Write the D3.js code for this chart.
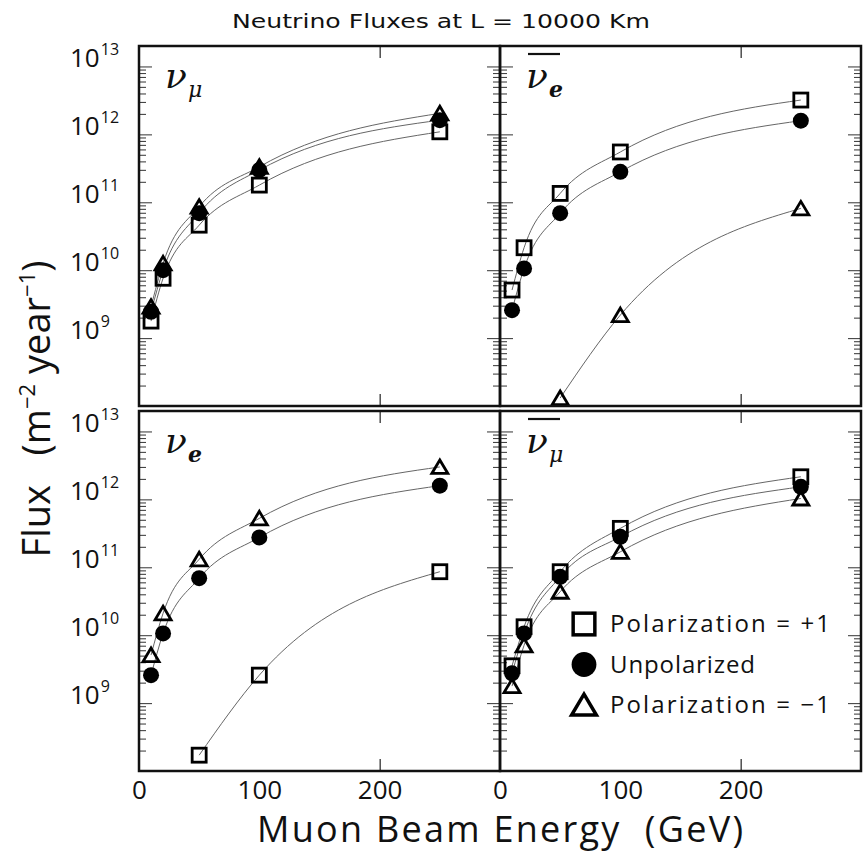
<!DOCTYPE html>
<html>
<head>
<meta charset="utf-8">
<script src="https://cdn.jsdelivr.net/npm/d3@7"></script>
<style>
  body { margin: 0; background: #fff; }
  svg text { font-family: "Open Sans", "DejaVu Sans", sans-serif; fill: #111; }
</style>
</head>
<body>
<div id="chart"></div>
<script>
// muon beam energies (GeV)
var energies = [10, 20, 50, 100, 250];

// fluxes in m^-2 year^-1 (null = below the frame)
var numuPlus  = [1.78e9, 7.6e9, 4.6e10, 1.79e11, 1.09e12];
var numuUnpol = [2.44e9, 1.0e10, 6.9e10, 2.98e11, 1.62e12];
var numuMinus = [2.9e9, 1.26e10, 8.6e10, 3.33e11, 2.04e12];

var nuebarPlus  = [5.1e9, 2.14e10, 1.35e11, 5.5e11, 3.2e12];
var nuebarUnpol = [2.58e9, 1.06e10, 6.9e10, 2.81e11, 1.59e12];
var nuebarMinus = [null, null, 1.31e8, 2.18e9, 8.13e10];

var nuePlus  = [null, null, 1.71e8, 2.58e9, 8.6e10];
var nueUnpol = [2.58e9, 1.06e10, 6.9e10, 2.75e11, 1.59e12];
var nueMinus = [5.1e9, 2.1e10, 1.31e11, 5.25e11, 3.0e12];

var numubarPlus  = [3.54e9, 1.33e10, 8.6e10, 3.74e11, 2.15e12];
var numubarUnpol = [2.74e9, 1.06e10, 7.24e10, 2.81e11, 1.53e12];
var numubarMinus = [1.78e9, 7.1e9, 4.36e10, 1.69e11, 1.03e12];

var yMajorTicks = [1e9, 1e10, 1e11, 1e12, 1e13];
var yTickExponents = ['9', '10', '11', '12', '13'];
var xTickLabels = [0, 100, 200];
var xTickMarks = [200];
var legendLabels = ['Polarization = +1', 'Unpolarized', 'Polarization = \u22121'];

var width = 865, height = 852;
var pw = 361, ph = 360;
var colX = [139, 500], rowY = [46, 411];

var svg = d3.select('#chart').append('svg')
  .attr('width', width)
  .attr('height', height);

var x = d3.scaleLinear().domain([0, 300]).range([0, pw]);
var y = d3.scaleLog().domain([1e8, 2e13]).range([ph, 0]);

// minor ticks 2..9 in every decade
var yMinorTicks = [];
d3.range(8, 13).forEach(function(e) {
  d3.range(2, 10).forEach(function(m) {
    var v = m * Math.pow(10, e);
    if (v < 2e13) yMinorTicks.push(v);
  });
});

var panels = [
  {col: 0, row: 0, sub: '\u03bc', bar: false, series: [numuPlus, numuUnpol, numuMinus]},
  {col: 1, row: 0, sub: 'e', bar: true, series: [nuebarPlus, nuebarUnpol, nuebarMinus]},
  {col: 0, row: 1, sub: 'e', bar: false, series: [nuePlus, nueUnpol, nueMinus]},
  {col: 1, row: 1, sub: '\u03bc', bar: true, series: [numubarPlus, numubarUnpol, numubarMinus], legend: true}
];

var triPath = function(s) {
  var w = 8 * s, up = 7 * s, dn = 6.5 * s;
  return 'M0,' + (-up) + 'L' + w + ',' + dn + 'L' + (-w) + ',' + dn + 'Z';
};

function drawMarker(g, kind, s) {
  if (kind === 0) {
    g.append('rect').attr('x', -7 * s).attr('y', -7 * s)
      .attr('width', 14 * s).attr('height', 14 * s)
      .attr('fill', 'none').attr('stroke', '#000').attr('stroke-width', 2.8 * Math.sqrt(s));
  } else if (kind === 1) {
    g.append('circle').attr('r', 8 * s).attr('fill', '#000');
  } else {
    g.append('path').attr('d', triPath(s))
      .attr('fill', 'none').attr('stroke', '#000')
      .attr('stroke-width', 2.8 * Math.sqrt(s)).attr('stroke-linejoin', 'miter');
  }
}

var line = d3.line()
  .x(function(d) { return x(d[0]); })
  .y(function(d) { return y(d[1]); })
  .curve(d3.curveMonotoneX);

panels.forEach(function(p) {
  var g = svg.append('g')
    .attr('transform', 'translate(' + colX[p.col] + ',' + rowY[p.row] + ')');

  // tick marks, both sides pointing inward
  [[yMajorTicks, 13], [yMinorTicks, 7]].forEach(function(t) {
    g.append('g').attr('class', 'ytick')
      .call(d3.axisLeft(y).tickValues(t[0]).tickSize(-t[1]).tickFormat(''));
    g.append('g').attr('class', 'ytick')
      .attr('transform', 'translate(' + pw + ',0)')
      .call(d3.axisRight(y).tickValues(t[0]).tickSize(-t[1]).tickFormat(''));
  });
  g.append('g').attr('class', 'xtick')
    .call(d3.axisTop(x).tickValues(xTickMarks).tickSize(-12).tickFormat(''));
  g.append('g').attr('class', 'xtick')
    .attr('transform', 'translate(0,' + ph + ')')
    .call(d3.axisBottom(x).tickValues(xTickMarks).tickSize(-12).tickFormat(''));
  g.selectAll('.ytick .domain, .xtick .domain').remove();
  g.selectAll('.ytick line').attr('stroke', '#444').attr('stroke-width', 1.1);
  g.selectAll('.xtick line').attr('stroke', '#222').attr('stroke-width', 1.2);

  // curves
  p.series.forEach(function(vals) {
    var pts = energies.map(function(e, i) { return [e, vals[i]]; })
      .filter(function(d) { return d[1] != null; });
    g.append('path').datum(pts)
      .attr('d', line)
      .attr('fill', 'none')
      .attr('stroke', '#666')
      .attr('stroke-width', 1);
  });

  // markers
  p.series.forEach(function(vals, k) {
    energies.forEach(function(e, i) {
      if (vals[i] == null) return;
      var m = g.append('g').attr('transform', 'translate(' + x(e) + ',' + y(vals[i]) + ')');
      drawMarker(m, k, 1);
    });
  });

  // frame
  g.append('rect').attr('width', pw).attr('height', ph)
    .attr('fill', 'none').attr('stroke', '#111').attr('stroke-width', 2.5);

  // neutrino label
  var lab = g.append('text').attr('x', 26).attr('y', 42)
    .style('font-family', '"DejaVu Serif", serif');
  lab.append('tspan').text('\u03bd')
    .style('font-style', 'italic').style('font-size', '36px');
  lab.append('tspan').text(p.sub).attr('dy', 9).attr('dx', 1)
    .style('font-style', 'italic').style('font-weight', p.sub === 'e' ? 'bold' : 'normal')
    .style('font-size', '22px');
  if (p.bar) {
    g.append('line').attr('x1', 28).attr('x2', 60).attr('y1', 8).attr('y2', 8)
      .attr('stroke', '#111').attr('stroke-width', 2.2);
  }

  // y tick labels on the left column
  if (p.col === 0) {
    yMajorTicks.forEach(function(v, i) {
      var t = g.append('text').attr('x', 70 - colX[0]).attr('y', y(v) + 1)
        .style('font-size', '26px');
      t.append('tspan').text('10');
      t.append('tspan').text(yTickExponents[i]).attr('dy', -12).attr('dx', 1).style('font-size', '16px');
    });
  }

  // x tick labels on the bottom row
  if (p.row === 1) {
    g.append('g').attr('class', 'xlab')
      .attr('transform', 'translate(0,' + ph + ')')
      .call(d3.axisBottom(x).tickValues(xTickLabels).tickSize(0).tickPadding(10).tickFormat(d3.format('d')))
      .call(function(a) { a.select('.domain').remove(); })
      .selectAll('text')
        .style('font-size', '26px')
        .style('font-family', '"Open Sans", "DejaVu Sans", sans-serif')
        .attr('fill', '#111');
  }

  // legend
  if (p.legend) {
    legendLabels.forEach(function(txt, k) {
      var ly = 213 + k * 40.5;
      var m = g.append('g').attr('transform', 'translate(84,' + ly + ')');
      drawMarker(m, k, 1.55);
      g.append('text').attr('x', 110).attr('y', ly + 8)
        .attr('textLength', txt === 'Unpolarized' ? 145 : 220).attr('lengthAdjust', 'spacing')
        .style('font-size', '24px')
        .text(txt);
    });
  }
});

// title and axis titles
svg.append('text')
  .attr('x', 441).attr('y', 28)
  .attr('text-anchor', 'middle')
  .attr('textLength', 418).attr('lengthAdjust', 'spacingAndGlyphs')
  .style('font-family', '"DejaVu Sans", sans-serif')
  .style('font-size', '19px')
  .text('Neutrino Fluxes at L = 10000 Km');

svg.append('text')
  .attr('x', 500).attr('y', 842)
  .attr('text-anchor', 'middle')
  .attr('textLength', 486).attr('lengthAdjust', 'spacing')
  .style('font-size', '36px')
  .text('Muon Beam Energy\u00a0 (GeV)');

var yl = svg.append('text')
  .attr('transform', 'translate(50,409) rotate(-90)')
  .attr('text-anchor', 'middle')
  .style('font-size', '38px');
yl.append('tspan').text('Flux\u00a0\u00a0 (m');
yl.append('tspan').text('\u22122').attr('dy', -15).style('font-size', '22px');
yl.append('tspan').text('\u00a0year').attr('dy', 15);
yl.append('tspan').text('\u22121').attr('dy', -15).style('font-size', '22px');
yl.append('tspan').text(')').attr('dy', 15);
</script>
</body>
</html>
